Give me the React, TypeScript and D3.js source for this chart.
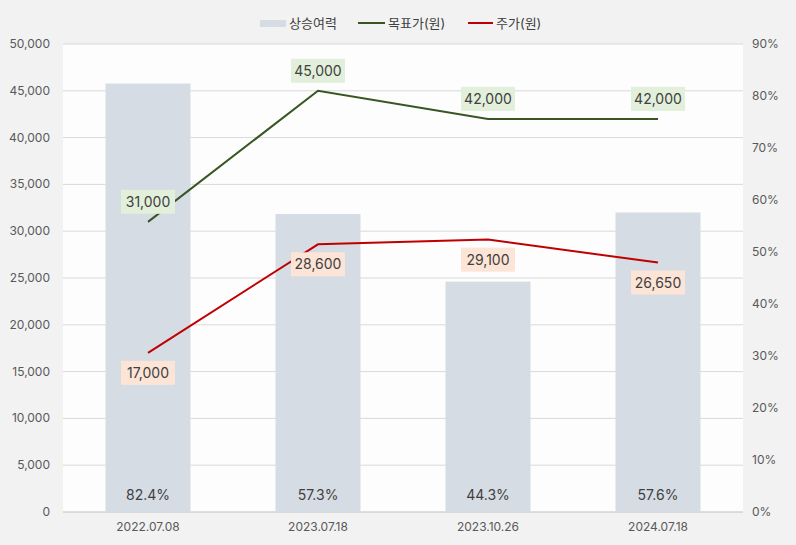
import React from "react";
import * as d3 from "d3";

const categories = ["2022.07.08", "2023.07.18", "2023.10.26", "2024.07.18"];
const upside = [82.4, 57.3, 44.3, 57.6];
const targetPrice = [31000, 45000, 42000, 42000];
const stockPrice = [17000, 28600, 29100, 26650];
const leftTicks = [0, 5000, 10000, 15000, 20000, 25000, 30000, 35000, 40000, 45000, 50000];
const rightTicks = [0, 10, 20, 30, 40, 50, 60, 70, 80, 90];

const W = 796, H = 545;
const M = { left: 63, right: 743, top: 44, bottom: 512 };
const FONT = "Inter, 'Noto Sans CJK KR', 'Noto Sans', sans-serif";

export default function App() {
  const x = d3.scaleBand<string>().domain(categories).range([M.left, M.right]).paddingInner(0.5).paddingOuter(0.25);
  const xc = (c: string) => (x(c) as number) + x.bandwidth() / 2;
  const yL = d3.scaleLinear().domain([0, 50000]).range([M.bottom, M.top]);
  const yR = d3.scaleLinear().domain([0, 90]).range([M.bottom, M.top]);
  const fmt = d3.format(",");
  const line = d3.line<[number, number]>().x(d => d[0]).y(d => d[1]);
  const tPts = categories.map((c, i) => [xc(c), yL(targetPrice[i])] as [number, number]);
  const sPts = categories.map((c, i) => [xc(c), yL(stockPrice[i])] as [number, number]);

  const label = (px: number, py: number, text: string, bg: string, key: string) => (
    <g key={key}>
      <rect x={px - 27} y={py - 12} width={54} height={24} fill={bg} />
      <text x={px} y={py + 5} textAnchor="middle" fontSize={14} fill="#404040" fontFamily={FONT}>{text}</text>
    </g>
  );

  return (
    <svg width={W} height={H} style={{ position: "absolute", left: 0, top: 0, background: "#f2f2f2" }}>
      <rect x={0} y={0} width={W} height={H} fill="#f2f2f2" />
      <rect x={M.left} y={M.top} width={M.right - M.left} height={M.bottom - M.top} fill="#fdfdfd" />
      {leftTicks.map(t => (
        <g key={"g" + t}>
          <line x1={M.left} x2={M.right} y1={yL(t)} y2={yL(t)} stroke={t === 0 ? "#bfbfbf" : "#d9d9d9"} strokeWidth={1} />
          <text x={50} y={yL(t) + 4} textAnchor="end" fontSize={12} fill="#595959" fontFamily={FONT}>{fmt(t)}</text>
        </g>
      ))}
      {rightTicks.map(t => (
        <text key={"r" + t} x={752} y={yR(t) + 4} textAnchor="start" fontSize={12} fill="#595959" fontFamily={FONT}>{t}%</text>
      ))}
      {categories.map((c, i) => (
        <g key={"b" + c}>
          <rect x={x(c)} y={yR(upside[i])} width={x.bandwidth()} height={M.bottom - yR(upside[i])} fill="#d6dce4" />
          <text x={xc(c)} y={500} textAnchor="middle" fontSize={14} fill="#404040" fontFamily={FONT}>{upside[i].toFixed(1)}%</text>
          <text x={xc(c)} y={531} textAnchor="middle" fontSize={12} fill="#595959" fontFamily={FONT}>{c}</text>
        </g>
      ))}
      <path d={line(tPts) as string} fill="none" stroke="#375623" strokeWidth={2} />
      <path d={line(sPts) as string} fill="none" stroke="#c00000" strokeWidth={2} />
      {tPts.map((p, i) => label(p[0], p[1] - 20, fmt(targetPrice[i]), "#e2efda", "t" + i))}
      {sPts.map((p, i) => label(p[0], p[1] + 20, fmt(stockPrice[i]), "#fce4d6", "s" + i))}
      <g fontFamily={FONT} fontSize={13} fill="#404040">
        <rect x={260} y={20} width={26} height={7} fill="#d6dce4" />
        <text x={289} y={28}>상승여력</text>
        <line x1={358} x2={385} y1={23} y2={23} stroke="#375623" strokeWidth={2} />
        <text x={388} y={28}>목표가(원)</text>
        <line x1={468} x2={493} y1={23} y2={23} stroke="#c00000" strokeWidth={2} />
        <text x={496} y={28}>주가(원)</text>
      </g>
    </svg>
  );
}
